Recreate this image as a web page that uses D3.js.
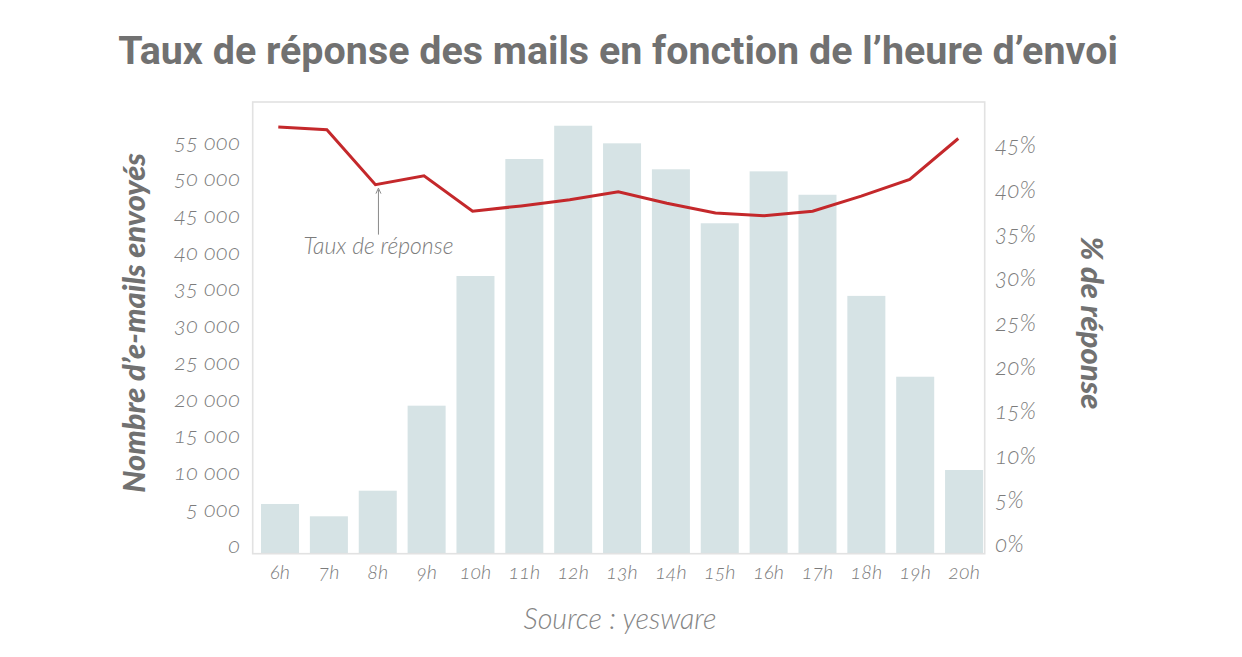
<!DOCTYPE html>
<html><head><meta charset="utf-8">
<script src="https://cdn.jsdelivr.net/npm/d3@7"></script>
<style>
html,body{margin:0;padding:0;background:#fff;}
svg{display:block;}
.tick text{font-family:Lato,"Open Sans",sans-serif;font-style:italic;font-weight:300;fill:#7c7c7c;font-variant-numeric:oldstyle-nums;font-feature-settings:"onum";}
</style>
</head><body>
<svg id="c" width="1242" height="657"></svg>
<script>
const hours = ["6h","7h","8h","9h","10h","11h","12h","13h","14h","15h","16h","17h","18h","19h","20h"];
const emails = [6780, 5100, 8590, 20180, 37860, 53810, 58350, 55950, 52410, 45050, 52130, 48940, 35150, 24130, 11410];
const rates = [47.9, 47.6, 41.4, 42.4, 38.4, 39.0, 39.7, 40.6, 39.3, 38.2, 37.9, 38.4, 40.1, 42.0, 46.6];
const emailTicks = [0,5000,10000,15000,20000,25000,30000,35000,40000,45000,50000,55000];
const rateTicks = [0,5,10,15,20,25,30,35,40,45];
const titleText = "Taux de réponse des mails en fonction de l’heure d’envoi";
const leftTitle = "Nombre d’e-mails envoyés";
const rightTitle = "% de réponse";
const lineLabel = "Taux de réponse";
const sourceText = "Source : yesware";

const svg = d3.select("#c");
const frame = {l:252.7, t:102, r:984.7, b:553.7};

const x = d3.scaleBand().domain(hours).range([255.6, 988.5]).paddingInner(0.222).paddingOuter(0.111);
const xLine = d3.scalePoint().domain(hours).range([278.3, 958.3]);
const y = d3.scaleLinear().domain([0,55000]).range([553.7,150.3]);
const y2 = d3.scaleLinear().domain([0,45]).range([551.7,152.7]);

function fit(sel, w){
  const n = sel.node();
  const cur = parseFloat(getComputedStyle(n).fontSize);
  const len = n.getComputedTextLength();
  const s = cur*w/len;
  sel.style("font-size", s+"px");
  return s;
}

// bars
svg.append("g").selectAll("rect").data(hours).join("rect")
  .attr("x", d=>x(d)).attr("width", x.bandwidth())
  .attr("y", (d,i)=>y(emails[i])).attr("height", (d,i)=>y(0)-y(emails[i]))
  .attr("fill", "#d6e3e5");

// frame
svg.append("rect").attr("x",frame.l).attr("y",frame.t)
  .attr("width",frame.r-frame.l).attr("height",frame.b-frame.t)
  .attr("fill","none").attr("stroke","#e2e2e2").attr("stroke-width",1.6);

// line
const line = d3.line().x((d,i)=>xLine(hours[i])).y(d=>y2(d));
svg.append("path").datum(rates).attr("d", line)
  .attr("fill","none").attr("stroke","#c4282b").attr("stroke-width",3).attr("stroke-linejoin","miter");

// left axis
const fmt = d3.formatLocale({decimal:",", thousands:"\u2009", grouping:[3], currency:["","€"]}).format(",d");
const fmtSp = v => fmt(v).replace(/\u2009/g," ");
const gL = svg.append("g").attr("transform","translate(240,0)")
  .call(d3.axisLeft(y).tickValues(emailTicks).tickSize(0).tickPadding(0).tickFormat(fmtSp));
gL.select(".domain").remove();
gL.selectAll("text").attr("dy",null).attr("y",-1).attr("font-size",null).attr("font-family",null);
{
  const ref = gL.selectAll(".tick text").filter(d=>d===55000);
  ref.style("font-size","20px");
  const s = fit(ref, 66);
  gL.selectAll("text").style("font-size", s+"px");
}

// right axis
const gR = svg.append("g").attr("transform","translate(995,0)")
  .call(d3.axisRight(y2).tickValues(rateTicks).tickSize(0).tickPadding(0).tickFormat(d=>d+"%"));
gR.select(".domain").remove();
gR.selectAll("text").attr("dy",null).attr("y",0).attr("font-size",null).attr("font-family",null);
{
  const ref = gR.selectAll(".tick text").filter(d=>d===45);
  ref.style("font-size","20px");
  const s = fit(ref, 41);
  gR.selectAll("text").style("font-size", s+"px");
}

// bottom axis
const gB = svg.append("g").attr("transform",`translate(0,${frame.b})`)
  .call(d3.axisBottom(x).tickSize(0).tickPadding(0));
gB.select(".domain").remove();
gB.selectAll("text").attr("dy",null).attr("y",25.5).attr("font-size",null).attr("font-family",null);
{
  const ref = gB.selectAll(".tick text").filter(d=>d==="10h");
  ref.style("font-size","20px");
  const s = fit(ref, 31.5);
  gB.selectAll("text").style("font-size", s+"px");
}

// title
const t = svg.append("text").attr("x",618).attr("y",63.5).attr("text-anchor","middle")
  .attr("font-family","Roboto, 'Open Sans', sans-serif").attr("font-weight",700)
  .attr("fill","#717171").style("font-size","34px").text(titleText);
fit(t, 1000);

// axis titles
const lt = svg.append("text").attr("transform","translate(134.5,323) rotate(-90)")
  .attr("text-anchor","middle").attr("dy","0.35em")
  .attr("font-family","Lato, 'Open Sans', sans-serif").attr("font-weight",900).attr("font-style","italic")
  .attr("fill","#717171").style("font-size","24px").text(leftTitle);
fit(lt, 340);
const rt = svg.append("text").attr("transform","translate(1092,323) rotate(90)")
  .attr("text-anchor","middle").attr("dy","0.35em")
  .attr("font-family","Lato, 'Open Sans', sans-serif").attr("font-weight",900).attr("font-style","italic")
  .attr("fill","#717171").style("font-size","24px").text(rightTitle);
fit(rt, 173);

// annotation
const ax = xLine("8h") + 3;
const ay = y2(rates[2]);
svg.append("line").attr("x1",ax).attr("x2",ax).attr("y1",ay+5).attr("y2",ay+50)
  .attr("stroke","#8a8a8a").attr("stroke-width",1);
svg.append("path").attr("d",`M${ax-2.5},${ay+9} L${ax},${ay+3.5} L${ax+2.5},${ay+9}`)
  .attr("fill","none").attr("stroke","#8a8a8a").attr("stroke-width",1);
const an = svg.append("text").attr("x",ax).attr("y",254).attr("text-anchor","middle")
  .attr("font-family","Lato, 'Open Sans', sans-serif").attr("font-weight",300).attr("font-style","italic")
  .attr("fill","#7c7c7c").style("font-size","18px").text(lineLabel);
fit(an, 150);

// source
const src = svg.append("text").attr("x",620).attr("y",628.5).attr("text-anchor","middle")
  .attr("font-family","Lato, 'Open Sans', sans-serif").attr("font-weight",300).attr("font-style","italic")
  .attr("fill","#858585").style("font-size","24px").text(sourceText);
fit(src, 193);
</script>
</body></html>
